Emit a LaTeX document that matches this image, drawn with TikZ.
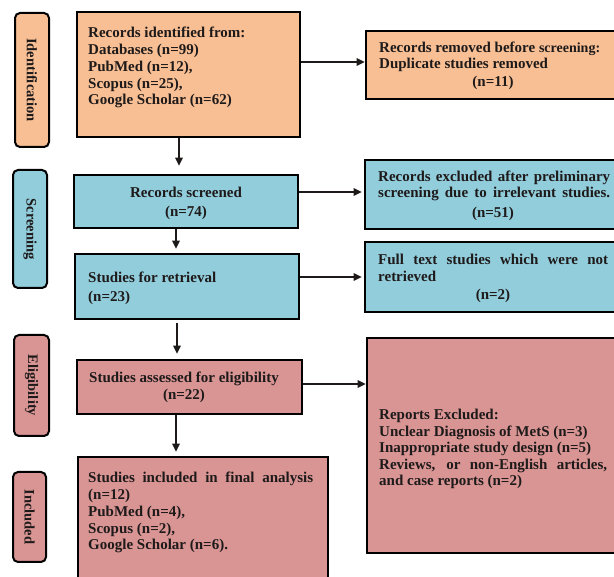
\documentclass[tikz,border=0pt]{standalone}
\usepackage{fontspec}
\setmainfont{Liberation Serif}
\usetikzlibrary{arrows.meta}
\definecolor{orf}{HTML}{F9BF94}
\definecolor{blf}{HTML}{92CDDC}
\definecolor{pkf}{HTML}{D99594}
\definecolor{ink}{HTML}{1E1A1A}
\tikzset{
  box/.style={draw=black, line width=2.6pt, inner sep=0pt, rectangle},
  phase/.style={draw=black, line width=2pt, rounded corners=5pt, inner sep=0pt, rectangle},
  txt/.style={anchor=base west, inner sep=0pt, text=ink, font=\fontsize{15}{16.7}\selectfont\bfseries},
  ctxt/.style={txt, anchor=base},
  ptxt/.style={inner sep=0pt, text=ink, font=\fontsize{14.5}{16}\selectfont\bfseries, rotate=-90},
  arr/.style={line width=1.3pt, draw=ink, -{Triangle[length=8pt,width=7.5pt]}},
}
\begin{document}
\begin{tikzpicture}[x=1pt,y=-1pt]
\useasboundingbox (0,0) rectangle (614,577);
\fill[white] (0,0) rectangle (614,577);
\clip (0,0) rectangle (614,577);

% phase labels
\node[phase, fill=orf, minimum width=34pt, minimum height=134pt] (pI) at (32,80) {};
\node[phase, fill=blf, minimum width=34pt, minimum height=118pt] (pS) at (30,229) {};
\node[phase, fill=pkf, minimum width=35pt, minimum height=101pt] (pE) at (31.5,385.5) {};
\node[phase, fill=pkf, minimum width=33pt, minimum height=90pt] (pN) at (29.5,517) {};
\node[ptxt] (tI) at (pI.center) {Identification};
\node[ptxt] (tS) at (pS.center) {Screening};
\node[ptxt] (tE) at (pE.center) {Eligibility};
\node[ptxt] (tN) at (pN.center) {Included};

% main boxes
\node[box, fill=orf, minimum width=223pt, minimum height=125pt] (b1) at (188.5,74.5) {};
\node[box, fill=blf, minimum width=224pt, minimum height=53pt] (b2) at (186,201.5) {};
\node[box, fill=blf, minimum width=224pt, minimum height=65pt] (b3) at (187,286.5) {};
\node[box, fill=pkf, minimum width=225pt, minimum height=54pt] (b4) at (189.5,387) {};
\node[box, fill=pkf, minimum width=250pt, minimum height=143pt] (b5) at (203,528.5) {};

% right boxes
\node[box, fill=orf, minimum width=284pt, minimum height=68pt] (r1) at (508,65) {};
\node[box, fill=blf, minimum width=285pt, minimum height=69pt] (r2) at (507.5,194.5) {};
\node[box, fill=blf, minimum width=285pt, minimum height=70pt] (r3) at (507.5,277) {};
\node[box, fill=pkf, minimum width=283pt, minimum height=215pt] (r4) at (508.5,445.5) {};

% texts box 1
\node[txt] (t11) at (88,38) {Records identified from:};
\node[txt] (t12) at (88,55) {Databases (n=99)};
\node[txt] (t13) at (88,72) {PubMed (n=12),};
\node[txt] (t14) at (88,88.5) {Scopus (n=25),};
\node[txt] (t15) at (88,105) {Google Scholar (n=62)};
% box 2
\node[ctxt] (t21) at (186,198) {Records screened};
\node[ctxt] (t22) at (186,217) {(n=74)};
% box 3
\node[txt] (t31) at (88,283) {Studies for retrieval};
\node[txt] (t32) at (88,302) {(n=23)};
% box 4
\node[ctxt] (t41) at (184,383) {Studies assessed for eligibility};
\node[ctxt] (t42) at (184,400) {(n=22)};
% box 5
\node[txt] (t51) at (88,483) {\makebox[225pt][s]{Studies included in final analysis}};
\node[txt] (t52) at (88,500) {(n=12)};
\node[txt] (t53) at (88,517) {PubMed (n=4),};
\node[txt] (t54) at (88,533.5) {Scopus (n=2),};
\node[txt] (t55) at (88,550) {Google Scholar (n=6).};

% right texts
\node[txt] (s11) at (379,53) {Records removed before {\fontsize{14}{15}\selectfont screening:}};
\node[txt] (s12) at (379,69) {Duplicate studies removed};
\node[ctxt] (s13) at (493,87) {(n=11)};

\node[txt] (s21) at (378,182) {\makebox[232pt][s]{Records excluded after preliminary}};
\node[txt] (s22) at (378,198) {\makebox[232pt][s]{screening due to irrelevant studies.}};
\node[ctxt] (s23) at (493,218) {(n=51)};

\node[txt] (s31) at (378,265) {\makebox[230pt][s]{Full text studies which were not}};
\node[txt] (s32) at (378,282) {retrieved};
\node[ctxt] (s33) at (493,300) {(n=2)};

\node[txt] (s41) at (379,420) {Reports Excluded:};
\node[txt] (s42) at (379,437) {Unclear Diagnosis of MetS (n=3)};
\node[txt] (s43) at (379,453) {Inappropriate study design (n=5)};
\node[txt] (s44) at (379,469.5) {\makebox[228pt][s]{Reviews, or non-English articles,}};
\node[txt] (s45) at (379,486) {and case reports (n=2)};

% connector guide coordinates
\coordinate (h1) at (0,62);
\coordinate (h2) at (0,192);
\coordinate (h3) at (0,277);
\coordinate (h4) at (0,384);
\coordinate (v1) at (179,0);
\coordinate (v2) at (176,0);
\coordinate (v3) at (177,0);
\coordinate (v4) at (176,0);

% horizontal arrows
\draw[arr] (b1.east |- h1) -- (r1.west |- h1);
\draw[arr, shorten >=2pt] (b2.east |- h2) -- (r2.west |- h2);
\draw[arr, shorten >=2pt] (b3.east |- h3) -- (r3.west |- h3);
\draw[arr] (b4.east |- h4) -- (r4.west |- h4);

% vertical arrows
\draw[arr, shorten >=8pt] (b1.south -| v1) -- (b2.north -| v1);
\draw[arr, shorten >=4pt] (b2.south -| v2) -- (b3.north -| v2);
\draw[arr, shorten <=3pt, shorten >=5pt] (b3.south -| v3) -- (b4.north -| v3);
\draw[arr, shorten >=4pt] (b4.south -| v4) -- (b5.north -| v4);
\end{tikzpicture}
\end{document}
